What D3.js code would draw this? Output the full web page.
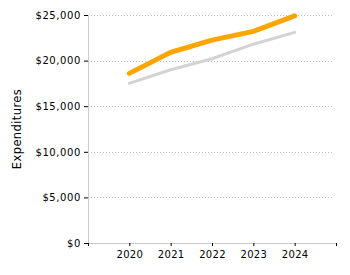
<!DOCTYPE html>
<html><head><meta charset="utf-8">
<script src="https://cdn.jsdelivr.net/npm/d3@7"></script>
<style>body{margin:0;background:#fff}svg{display:block}</style>
</head><body><svg id="c" width="350" height="275"></svg>
<script>
const years = [2020, 2021, 2022, 2023, 2024];
const seriesA = [18600, 20900, 22250, 23200, 24900]; // orange
const seriesB = [17500, 19000, 20200, 21800, 23100]; // gray
const yTicks = [0, 5000, 10000, 15000, 20000, 25000];
const yLabel = "Expenditures";

const svg = d3.select("#c");
const m = {l: 88, r: 14, t: 15, b: 32};
const W = 350, H = 275;
const x = d3.scaleLinear().domain([2019, 2025]).range([m.l, W - m.r]);
const y = d3.scaleLinear().domain([0, 25000]).range([H - m.b, m.t]);
const font = "DejaVu Sans, Verdana, sans-serif";

// grid
svg.append("g").selectAll("line").data(yTicks.filter(d => d > 0)).join("line")
  .attr("x1", m.l).attr("x2", W - m.r - 3)
  .attr("y1", d => Math.round(y(d)) + 0.5).attr("y2", d => Math.round(y(d)) + 0.5)
  .attr("stroke", "#bbb").attr("stroke-dasharray", "1,2");

// y axis
const ya = svg.append("g").attr("transform", `translate(${m.l},0)`)
  .call(d3.axisLeft(y).tickValues(yTicks).tickSize(4).tickPadding(3)
    .tickFormat(d => "$" + d3.format(",")(d)));
ya.select(".domain").attr("stroke", "#ccc");
ya.selectAll(".tick line").attr("stroke", "#000");
ya.selectAll("text").attr("font-family", font).attr("font-size", 10).attr("fill", "#000")
  .attr("letter-spacing", 0.6);

// x axis
const xa = svg.append("g").attr("transform", `translate(0,${H - m.b})`)
  .call(d3.axisBottom(x).tickValues([2019, ...years, 2025]).tickSize(3).tickPadding(5)
    .tickFormat(d => years.includes(d) ? String(d) : ""));
xa.select(".domain").attr("stroke", "#ccc");
xa.selectAll(".tick line").attr("stroke", "#000");
xa.selectAll("text").attr("font-family", font).attr("font-size", 10).attr("fill", "#000")
  .attr("letter-spacing", 0.3);

// label
svg.append("text").attr("transform", `translate(21,${(m.t + H - m.b) / 2}) rotate(-90)`)
  .attr("text-anchor", "middle").attr("font-family", font).attr("font-size", 11.5)
  .attr("letter-spacing", 0.4).text(yLabel);

const line = d3.line().x((d, i) => x(years[i])).y(d => y(d));
svg.append("path").datum(seriesB).attr("d", line).attr("fill", "none")
  .attr("stroke", "#d3d3d3").attr("stroke-width", 3).attr("stroke-linecap", "round");
svg.append("path").datum(seriesA).attr("d", line).attr("fill", "none")
  .attr("stroke", "#ffa500").attr("stroke-width", 5).attr("stroke-linecap", "round");
</script></body></html>
